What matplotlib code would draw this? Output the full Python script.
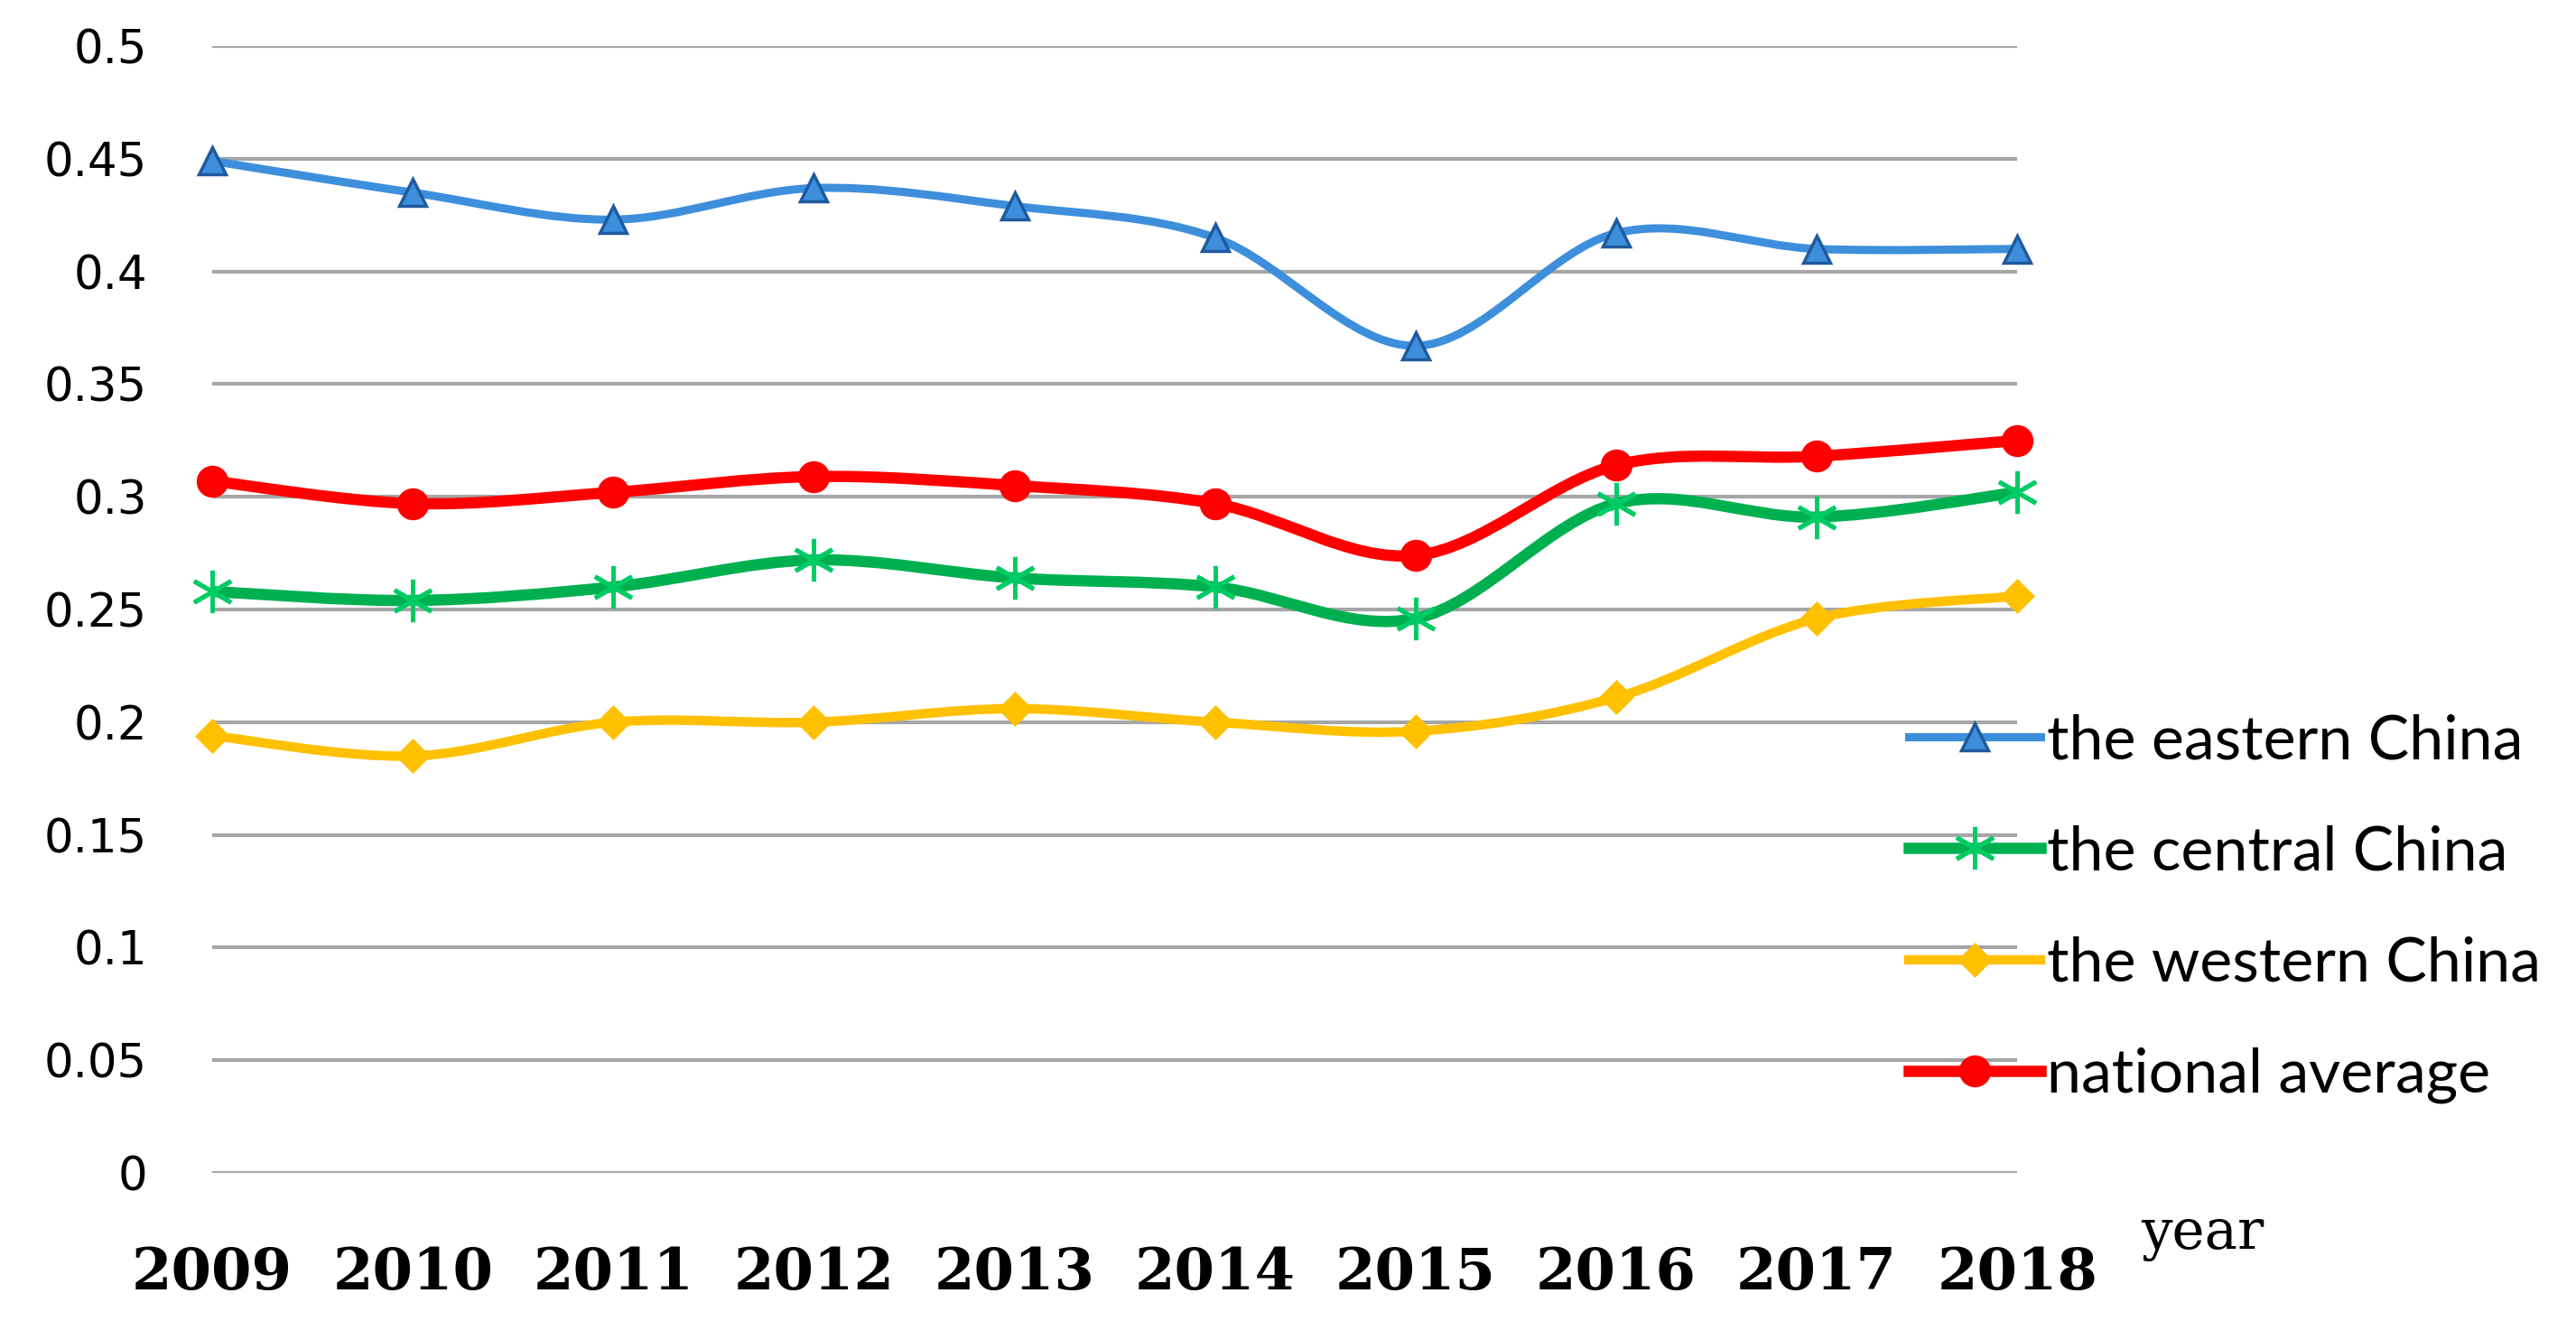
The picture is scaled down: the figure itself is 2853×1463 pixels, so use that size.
import matplotlib
matplotlib.use('Agg')
import matplotlib.pyplot as plt
import matplotlib.transforms as mtransforms
from matplotlib.path import Path
from matplotlib.patches import PathPatch
from matplotlib.lines import Line2D
import numpy as np

years = [2009, 2010, 2011, 2012, 2013, 2014, 2015, 2016, 2017, 2018]
eastern = [0.449, 0.435, 0.423, 0.437, 0.429, 0.415, 0.367, 0.417, 0.410, 0.410]
central = [0.258, 0.254, 0.260, 0.272, 0.264, 0.260, 0.246, 0.297, 0.291, 0.302]
western = [0.194, 0.185, 0.200, 0.200, 0.206, 0.200, 0.196, 0.211, 0.246, 0.256]
national = [0.307, 0.297, 0.302, 0.309, 0.305, 0.297, 0.274, 0.314, 0.318, 0.325]
labels = ['the eastern China', 'the central China', 'the western China', 'national average']
yticks = [0, 0.05, 0.1, 0.15, 0.2, 0.25, 0.3, 0.35, 0.4, 0.45, 0.5]
ytick_labels = ['0', '0.05', '0.1', '0.15', '0.2', '0.25', '0.3', '0.35', '0.4', '0.45', '0.5']


def smooth_path(x, y):
    # excel-like smoothed line: bezier segments with catmull-rom control points
    p = np.column_stack([x, y]).astype(float)
    n = len(p)
    verts = [p[0]]
    codes = [Path.MOVETO]
    for i in range(n - 1):
        p0 = p[i - 1] if i > 0 else p[i]
        p3 = p[i + 2] if i + 2 < n else p[i + 1]
        c1 = p[i] + (p[i + 1] - p0) / 6
        c2 = p[i + 1] - (p3 - p[i]) / 6
        verts += [c1, c2, p[i + 1]]
        codes += [Path.CURVE4] * 3
    return Path(verts, codes)


fig = plt.figure(figsize=(28.53, 14.63), dpi=100)
ax = fig.add_axes([0.0824, 0.1121, 0.7007, 0.853])

star = (6, 2, 0)
series = [
    (eastern, '#3d8fdc', 6.5, '^', 22, '#3d8fdc', '#1f5a9e'),
    (central, '#00b050', 9, star, 34, '#00cc66', '#00cc66'),
    (western, '#ffc000', 7.5, 'D', 17, '#ffc000', '#ffc000'),
    (national, '#ff0000', 9, 'o', 23, '#ff0000', '#ff0000'),
]

handles = []
for (vals, col, lw, mk, ms, fc, ec), lab in zip(series, labels):
    ax.add_patch(PathPatch(smooth_path(years, vals), facecolor='none',
                           edgecolor=col, lw=lw, capstyle='round', zorder=3))
    mew = 3.5 if mk == star else 2.5
    ax.plot(years, vals, ls='none', marker=mk, ms=ms, mfc=fc, mec=ec,
            mew=mew, zorder=4, clip_on=False)
    handles.append(Line2D([], [], color=col, lw=lw, marker=mk, ms=ms,
                          mfc=fc, mec=ec, mew=mew))

ax.set_xlim(2009, 2018)
ax.set_ylim(0, 0.5)
ax.set_yticks(yticks)
ax.set_yticklabels(ytick_labels, fontsize=37, family='DejaVu Sans')
ax.set_xticks(years)
ax.set_xticklabels([str(y) for y in years], fontsize=46, fontweight='bold',
                   family='DejaVu Serif')
shift = mtransforms.ScaledTranslation(6 / 100, 0, fig.dpi_scale_trans)
for t in ax.get_xticklabels():
    t.set_transform(t.get_transform() + shift)
ax.tick_params(axis='y', length=0, pad=52)
ax.tick_params(axis='x', length=0, pad=58)
ax.yaxis.grid(True, color='#a6a6a6', lw=3)
ax.set_axisbelow(True)
for s in ax.spines.values():
    s.set_visible(False)

fig.text(0.831, 0.0547, 'year', fontsize=44, family='DejaVu Serif',
         va='baseline')

fig.legend(handles, labels, loc='upper left', bbox_to_anchor=(0.741, 0.46),
           frameon=False, prop={'family': 'Lato', 'size': 49},
           handlelength=2.15, handletextpad=0.1, labelspacing=0.9,
           borderpad=0, borderaxespad=0)

fig.savefig('out.png', dpi=100)
